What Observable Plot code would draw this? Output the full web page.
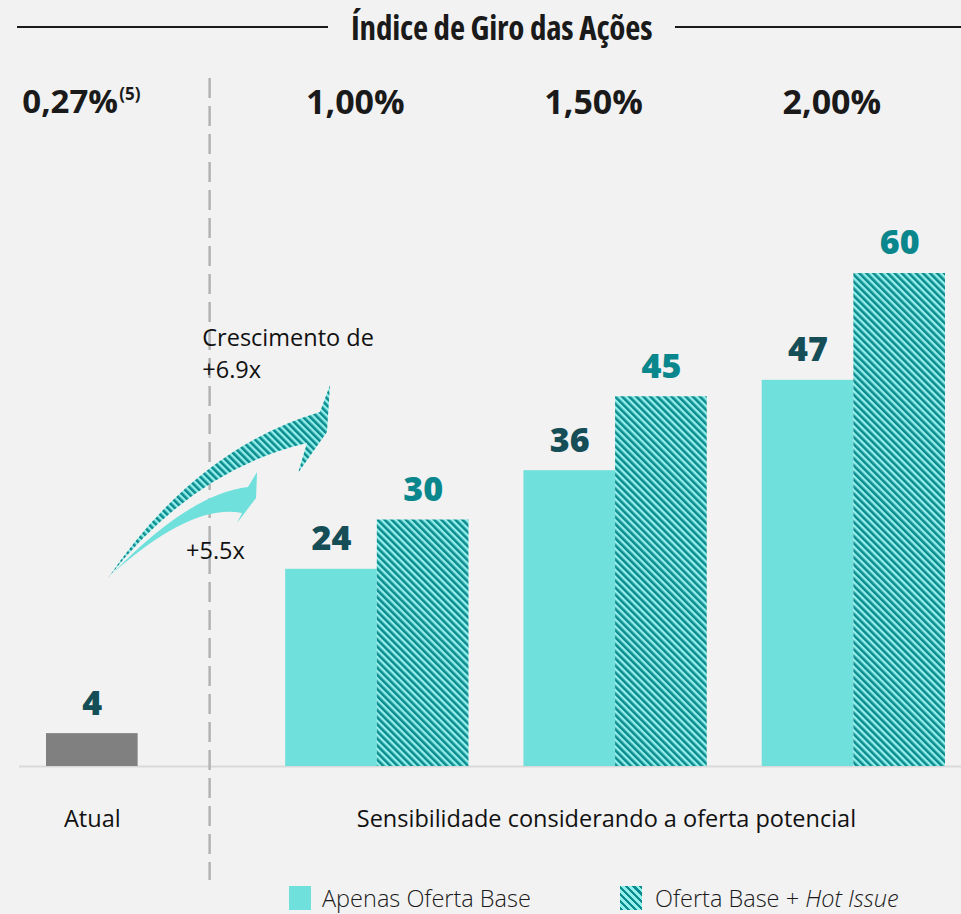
<!DOCTYPE html>
<html><head><meta charset="utf-8">
<script src="https://cdn.jsdelivr.net/npm/d3@7"></script>
<script src="https://cdn.jsdelivr.net/npm/@observablehq/plot@0.6"></script>
<style>
html,body{margin:0;padding:0;background:#f2f2f2;}
body{width:961px;height:914px;overflow:hidden;position:relative;font-family:"Open Sans",sans-serif;color:#1a1a1a;}
#title{position:absolute;left:0;top:0;width:961px;height:54px;display:flex;align-items:center;}
#title .ln{height:2px;background:#1a1a1a;}
#title .tt{font-size:33px;font-weight:700;font-stretch:75%;letter-spacing:-0.2px;padding:0 23px;white-space:nowrap;color:#1a1a1a;}
#chart{position:absolute;left:0;top:52px;}
#legend{position:absolute;left:0;top:882px;width:961px;height:32px;}
.sw{position:absolute;top:4px;width:22px;height:24px;}
.lt{position:absolute;top:0;font-size:23.5px;font-weight:300;line-height:32px;white-space:nowrap;color:#1a1a1a;}
</style></head><body>
<div id="title"><div class="ln" style="margin-left:17px;width:311px"></div><div class="tt" id="ttl"></div><div class="ln" style="flex:1"></div></div>
<div id="chart"></div>
<div id="legend"></div>
<script>
// ---- data ----
const chartTitle = "Índice de Giro das Ações";
const categories = ["Atual", "1,00%", "1,50%", "2,00%"];
const turnoverLabels = ["0,27%", "1,00%", "1,50%", "2,00%"];
const footnoteMark = "(5)";
const currentValue = [4];
const baseValues = [24, 36, 47];
const hotIssueValues = [30, 45, 60];
const seriesNames = ["Apenas Oferta Base", "Oferta Base + ", "Hot Issue"];
const axisLabels = ["Atual", "Sensibilidade considerando a oferta potencial"];
const growthLabels = ["Crescimento de", "+6.9x", "+5.5x"];

// ---- colours ----
const C_BASE = "#6fe0dc", C_DARK = "#0b8b8f", C_LIGHT = "#93efe9", C_GRAY = "#808080";
const C_LBL_DARK = "#154e57", C_LBL_TEAL = "#0a878c";

document.getElementById("ttl").textContent = chartTitle;

// ---- layout in bar-width units ----
const GROUP_START = 2.61, GROUP_STEP = 2.6;
const bars = [{cat: categories[0], series: "atual", value: currentValue[0], x1: 0, x2: 1}];
baseValues.forEach((v, i) => {
  const s = GROUP_START + i * GROUP_STEP;
  bars.push({cat: categories[i + 1], series: "base", value: v, x1: s, x2: s + 1});
  bars.push({cat: categories[i + 1], series: "hot", value: hotIssueValues[i], x1: s + 1, x2: s + 2});
});
bars.forEach(d => { d.xm = (d.x1 + d.x2) / 2; d.y0 = 0; });

const topLabels = categories.map((c, i) => ({
  label: turnoverLabels[i],
  x: i === 0 ? 0.5 : GROUP_START + (i - 1) * GROUP_STEP + 1
}));
const dividerX = [1.78];

const chart = Plot.plot({
  width: 961, height: 831,
  marginLeft: 19, marginRight: 0, marginTop: 0, marginBottom: 0,
  x: {domain: [0, 9.81], range: [46, 945], axis: null},
  y: {domain: [0, 60], range: [714, 221], axis: null},
  style: {background: "transparent", fontFamily: "Open Sans, sans-serif", overflow: "visible"},
  marks: [
    Plot.ruleY([0], {stroke: "#d9d9d9", strokeWidth: 2}),
    Plot.ruleX(dividerX, {stroke: "#b3b3b3", strokeWidth: 2.5, strokeDasharray: "20,8", insetTop: 26, insetBottom: 3}),
    Plot.rect(bars.filter(d => d.series === "atual"), {x1: "x1", x2: "x2", y1: "y0", y2: "value", fill: C_GRAY}),
    Plot.rect(bars.filter(d => d.series === "base"), {x1: "x1", x2: "x2", y1: "y0", y2: "value", fill: C_BASE}),
    Plot.rect(bars.filter(d => d.series === "hot"), {x1: "x1", x2: "x2", y1: "y0", y2: "value", fill: "url(#hatch)"}),
    Plot.text(bars.filter(d => d.series !== "hot"), {x: "xm", y: "value", text: d => String(d.value), dy: -30, fontSize: 34, fontWeight: 800, fill: C_LBL_DARK}),
    Plot.text(bars.filter(d => d.series === "hot"), {x: "xm", y: "value", text: d => String(d.value), dy: -30, fontSize: 34, fontWeight: 800, fill: C_LBL_TEAL}),
    Plot.text(topLabels.slice(1), {x: "x", text: "label", frameAnchor: "top", dy: 37, dx: -22, fontSize: 34, fontWeight: 700, fill: "#1a1a1a"}),
    Plot.text(topLabels.slice(0, 1), {x: "x", text: "label", frameAnchor: "top", dy: 37, dx: -70, textAnchor: "start", fontSize: 33, fontWeight: 700, fill: "#1a1a1a"}),
    Plot.text(topLabels.slice(0, 1), {x: "x", text: () => footnoteMark, frameAnchor: "top", dy: 35, dx: 27, textAnchor: "start", fontSize: 17, fontWeight: 700, fill: "#1a1a1a"}),
    Plot.text([{x: 0.5, t: axisLabels[0]}, {x: 6.11, t: axisLabels[1]}], {x: "x", text: "t", frameAnchor: "bottom", dy: -57, fontSize: 23.5, fill: "#111"}),
    Plot.text([{x: 1.70, y: 52.1, t: growthLabels[0]}, {x: 1.70, y: 48.2, t: growthLabels[1]}], {x: "x", y: "y", text: "t", textAnchor: "start", fontSize: 23.5, fill: "#111"}),
    Plot.text([{x: 1.843, y: 26.2, t: growthLabels[2]}], {x: "x", y: "y", text: "t", fontSize: 23.5, fill: "#111"})
  ]
});

// hatch pattern defs
const svg = d3.select(chart);
const defs = svg.insert("defs", ":first-child");
const pat = defs.append("pattern").attr("id", "hatch").attr("patternUnits", "userSpaceOnUse")
  .attr("width", 5).attr("height", 5).attr("patternTransform", "rotate(-45)");
pat.append("rect").attr("width", 5).attr("height", 5).attr("fill", C_LIGHT);
pat.append("rect").attr("width", 2.6).attr("height", 5).attr("fill", C_DARK);

// growth arrows (data coordinates), drawn through the chart's scales
const sx = chart.scale("x"), sy = chart.scale("y");
const P = ([a, b]) => [sx.apply(a), sy.apply(b)];
function arrowPath(pts) {
  const [tail, lc, le, barb, right, tip, notch, uc] = pts.map(P);
  return `M${tail}Q${lc} ${le}L${barb}L${right}L${tip}L${notch}Q${uc} ${tail}Z`;
}
const bigArrow = [[0.677, 22.88], [1.604, 36.02], [2.848, 39.31], [2.750, 35.66], [3.066, 40.65], [3.099, 46.37], [2.990, 43.08], [1.637, 38.58]];
const smallArrow = [[0.731, 23.49], [1.593, 32.01], [2.139, 30.79], [2.084, 29.57], [2.292, 32.62], [2.303, 35.78], [2.204, 33.95], [1.566, 33.10]];
const ag = svg.append("g");
ag.append("path").attr("d", arrowPath(bigArrow)).attr("fill", "url(#hatch)");
ag.append("path").attr("d", arrowPath(smallArrow)).attr("fill", C_BASE);

document.getElementById("chart").appendChild(chart);

// legend
const lg = document.getElementById("legend");
lg.innerHTML = `
<div class="sw" style="left:289px;background:${C_BASE}"></div>
<div class="lt" style="left:322px">${seriesNames[0]}</div>
<div class="sw" style="left:620px;background:repeating-linear-gradient(45deg, ${C_DARK} 0 2.6px, ${C_LIGHT} 2.6px 5px)"></div>
<div class="lt" style="left:655px">${seriesNames[1]}<i>${seriesNames[2]}</i></div>`;
</script>
</body></html>
